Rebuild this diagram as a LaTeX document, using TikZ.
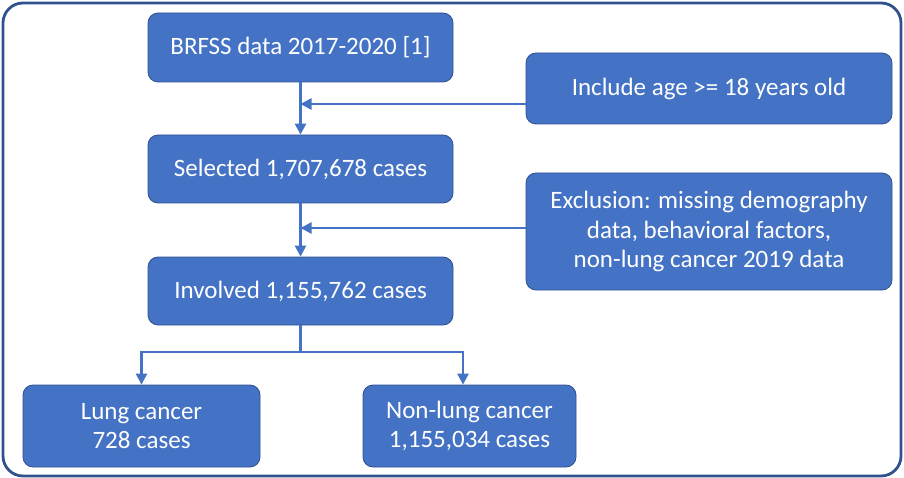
\documentclass[tikz,border=0pt]{standalone}
\usepackage{fontspec}
\setmainfont{Carlito}
\usepackage{xcolor}
\usetikzlibrary{arrows.meta}

\definecolor{boxblue}{RGB}{68,114,196}
\definecolor{edgeblue}{RGB}{47,82,143}

\begin{document}
\begin{tikzpicture}[x=1pt,y=-1pt,
        stage/.style={draw=edgeblue,line width=0.8pt,fill=boxblue,rounded corners=10pt,
            text=white,align=center,inner sep=0pt,font=\fontsize{25}{29.5}\selectfont},
        flow/.style={draw=boxblue,line width=2.5pt,-{Triangle[length=11pt,width=11pt]}},
        link/.style={draw=boxblue,line width=2.5pt}]
        \useasboundingbox (0,0) rectangle (904,478);
        \draw[edgeblue,line width=2.8pt,rounded corners=20pt] (3,3) rectangle (901,476);

        % main column
        \node[stage,minimum width=305pt,minimum height=69pt] (brfss) at (300.5,47.5) {BRFSS data 2017-2020 [1]};
        \node[stage,minimum width=305pt,minimum height=68pt] (selected) at (300.5,169) {Selected 1,707,678 cases};
        \node[stage,minimum width=305pt,minimum height=68pt] (involved) at (300.5,291) {Involved 1,155,762 cases};

        % criteria
        \node[stage,minimum width=366pt,minimum height=71pt] (include) at (709,88.5) {Include age >= 18 years old};
        \node[stage,minimum width=366pt,minimum height=117pt] (exclude) at (709,231.5) {Exclusion: missing demography\\data, behavioral factors,\\non-lung cancer 2019 data};

        % outcome
        \node[stage,minimum width=237pt,minimum height=82pt] (lung) at (141.5,426) {Lung cancer\\728 cases};
        \node[stage,minimum width=213pt,minimum height=82pt] (nonlung) at (469.5,426) {Non-lung cancer\\1,155,034 cases};

        \coordinate (incjoin) at (300.5,104);
        \coordinate (excjoin) at (300.5,228);
        \coordinate (split) at (300.5,352);

        \draw[flow] (brfss) -- (selected);
        \draw[flow] (selected) -- (involved);
        \draw[flow] (incjoin -| include.west) -- (incjoin);
        \draw[flow] (excjoin -| exclude.west) -- (excjoin);

        \draw[link] (involved) -- (split);
        \draw[flow] (split) -| (lung.north);
        \draw[flow] (split) -| ([xshift=-6.5pt]nonlung.north);
    \end{tikzpicture}
\end{document}
